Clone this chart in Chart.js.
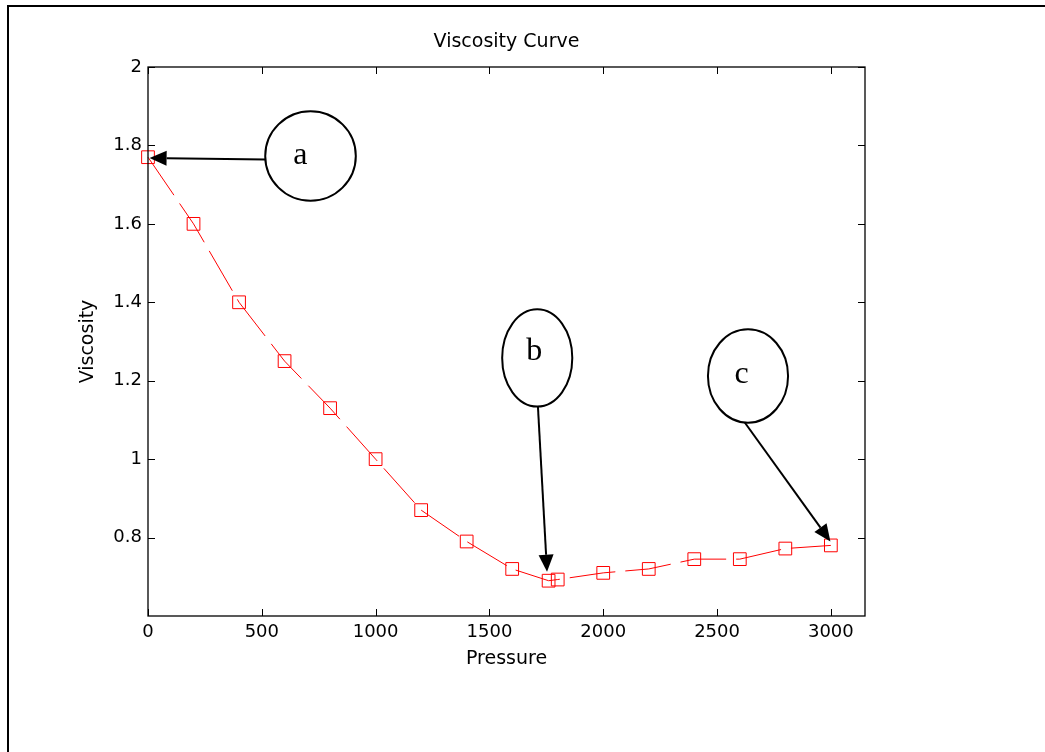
<!DOCTYPE html>
<html>
<head>
<meta charset="utf-8">
<title>Viscosity Curve</title>
<script src="https://cdn.jsdelivr.net/npm/chart.js@4.4.0/dist/chart.umd.min.js"></script>
<style>
    html, body { margin: 0; padding: 0; background: #fff; }
    #wrap { width: 1045px; height: 752px; position: relative; }
</style>
</head>
<body>
<div id="wrap"><canvas id="viscChart"></canvas></div>
<script>
// ==========================
// DATA
// ==========================

const pressure  = [0, 200, 400, 600, 800, 1000, 1200, 1400, 1600, 1760, 1800, 2000, 2200, 2400, 2600, 2800, 3000];
const viscosity = [1.77, 1.60, 1.40, 1.25, 1.13, 1.00, 0.87, 0.79, 0.72, 0.69, 0.693, 0.71, 0.72, 0.745, 0.745, 0.772, 0.78];

const xTicks = [0, 500, 1000, 1500, 2000, 2500, 3000];
const yTicks = [0.8, 1, 1.2, 1.4, 1.6, 1.8, 2];

// callouts, in data units: label, centre x/y, radius x/y
const calloutLabels = ['a', 'b', 'c'];
const calloutCx     = [714, 1710, 2636];
const calloutCy     = [1.773, 1.258, 1.212];
const calloutRx     = [199, 154, 176];
const calloutRy     = [0.114, 0.124, 0.119];
const calloutTextX  = [669, 1697, 2608];
const calloutTextY  = [1.774, 1.275, 1.216];
// arrows: from (x0,y0) to tip (x1,y1)
const arrowX0 = [516, 1713, 2621];
const arrowY0 = [1.764, 1.135, 1.094];
const arrowX1 = [7, 1753, 2998];
const arrowY1 = [1.768, 0.713, 0.790];

const FONT = 'DejaVu Sans';

// ==========================
// PLUGIN: box, inward ticks, callouts
// ==========================

const matlabAxes = {
    id: 'matlabAxes',
    afterDraw(chart) {
        const ctx = chart.ctx;
        const a = chart.chartArea;
        const xs = chart.scales.x;
        const ys = chart.scales.y;

        ctx.save();
        ctx.strokeStyle = '#000';
        ctx.lineWidth = 1.3;
        ctx.strokeRect(a.left, a.top, a.right - a.left, a.bottom - a.top);

        // inward ticks on all four sides
        ctx.lineWidth = 1;
        ctx.beginPath();
        xTicks.forEach(v => {
            const px = Math.round(xs.getPixelForValue(v)) + 0.5;
            ctx.moveTo(px, a.bottom); ctx.lineTo(px, a.bottom - 7);
            ctx.moveTo(px, a.top);    ctx.lineTo(px, a.top + 7);
        });
        yTicks.forEach(v => {
            const py = Math.round(ys.getPixelForValue(v)) + 0.5;
            ctx.moveTo(a.left, py);  ctx.lineTo(a.left + 7, py);
            ctx.moveTo(a.right, py); ctx.lineTo(a.right - 7, py);
        });
        ctx.stroke();

        // outer page frame (top and left edges)
        ctx.lineWidth = 2;
        ctx.beginPath();
        ctx.moveTo(8, 752);
        ctx.lineTo(8, 6);
        ctx.lineTo(1045, 6);
        ctx.stroke();

        // callout ellipses + letters
        ctx.lineWidth = 2;
        calloutLabels.forEach((lab, i) => {
            const cx = xs.getPixelForValue(calloutCx[i]);
            const cy = ys.getPixelForValue(calloutCy[i]);
            const rx = Math.abs(xs.getPixelForValue(calloutCx[i] + calloutRx[i]) - cx);
            const ry = Math.abs(ys.getPixelForValue(calloutCy[i] + calloutRy[i]) - cy);
            ctx.beginPath();
            ctx.ellipse(cx, cy, rx, ry, 0, 0, Math.PI * 2);
            ctx.stroke();

            ctx.fillStyle = '#000';
            ctx.font = '32px "Liberation Serif"';
            ctx.textAlign = 'center';
            ctx.textBaseline = 'middle';
            ctx.fillText(lab,
                xs.getPixelForValue(calloutTextX[i]),
                ys.getPixelForValue(calloutTextY[i]));
        });

        // arrows
        calloutLabels.forEach((lab, i) => {
            const x0 = xs.getPixelForValue(arrowX0[i]);
            const y0 = ys.getPixelForValue(arrowY0[i]);
            const x1 = xs.getPixelForValue(arrowX1[i]);
            const y1 = ys.getPixelForValue(arrowY1[i]);
            const ang = Math.atan2(y1 - y0, x1 - x0);
            const headLen = 17, headHalf = 7.5;
            const bx = x1 - headLen * Math.cos(ang);
            const by = y1 - headLen * Math.sin(ang);

            ctx.beginPath();
            ctx.moveTo(x0, y0);
            ctx.lineTo(bx, by);
            ctx.stroke();

            ctx.beginPath();
            ctx.moveTo(x1, y1);
            ctx.lineTo(bx + headHalf * Math.sin(ang), by - headHalf * Math.cos(ang));
            ctx.lineTo(bx - headHalf * Math.sin(ang), by + headHalf * Math.cos(ang));
            ctx.closePath();
            ctx.fill();
        });

        ctx.restore();
    }
};

// ==========================
// CHART
// ==========================

const chart = new Chart(document.getElementById('viscChart'), {
    type: 'line',
    data: {
        datasets: [{
            label: 'Viscosity',
            data: pressure.map((p, i) => ({ x: p, y: viscosity[i] })),
            borderColor: '#ff0000',
            borderWidth: 1,
            borderDash: [46, 10],
            pointStyle: 'rect',
            pointRadius: 9,
            pointHoverRadius: 9,
            pointBorderColor: '#ff0000',
            pointBackgroundColor: 'rgba(0,0,0,0)',
            pointBorderWidth: 1,
            tension: 0,
            clip: false
        }]
    },
    options: {
        responsive: true,
        maintainAspectRatio: false,
        animation: false,
        layout: {
            padding: { left: 0, right: 180, top: 0, bottom: 0 }
        },
        plugins: {
            legend: { display: false },
            tooltip: { enabled: false },
            title: {
                display: true,
                text: 'Viscosity Curve',
                fullSize: false,
                color: '#000',
                font: { family: FONT, size: 19, weight: 'normal' },
                padding: { top: 30.6, bottom: 13.6 }
            }
        },
        scales: {
            x: {
                type: 'linear',
                min: 0,
                max: 3150,
                afterFit: (scale) => { scale.height = 136; },
                afterBuildTicks: (scale) => {
                    scale.ticks = xTicks.map(v => ({ value: v }));
                },
                grid: { display: false, drawTicks: false },
                border: { display: false },
                ticks: {
                    color: '#000',
                    padding: 6,
                    maxRotation: 0,
                    font: { family: FONT, size: 18 },
                    callback: v => String(v)
                },
                title: {
                    display: true,
                    text: 'Pressure',
                    color: '#000',
                    font: { family: FONT, size: 19 },
                    padding: { top: 0, bottom: 81.6 }
                }
            },
            y: {
                min: 0.6,
                max: 2,
                afterFit: (scale) => { scale.width = 148; },
                afterBuildTicks: (scale) => {
                    scale.ticks = yTicks.map(v => ({ value: v }));
                },
                grid: { display: false, drawTicks: false },
                border: { display: false },
                ticks: {
                    color: '#000',
                    padding: 6,
                    font: { family: FONT, size: 18 },
                    callback: v => String(Math.round(v * 10) / 10)
                },
                title: {
                    display: true,
                    text: 'Viscosity',
                    color: '#000',
                    font: { family: FONT, size: 19 },
                    padding: { top: 76.6, bottom: 0 }
                }
            }
        }
    },
    plugins: [matlabAxes]
});
</script>
</body>
</html>
